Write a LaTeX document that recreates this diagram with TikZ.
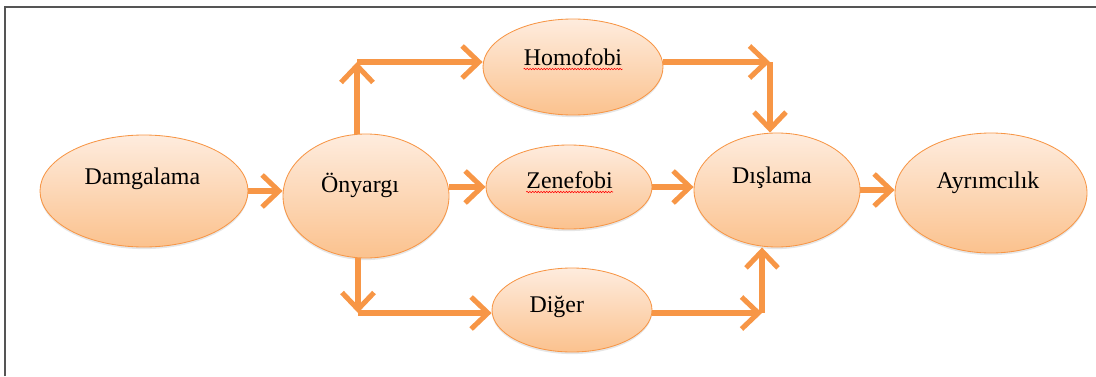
\documentclass[tikz,border=0pt]{standalone}
\usepackage{fontspec}
\setmainfont{Liberation Serif}
\usetikzlibrary{shapes.geometric,arrows.meta,shadows,decorations.pathmorphing}
\definecolor{acc}{HTML}{F79646}
\definecolor{ovtop}{HTML}{FEECDE}
\definecolor{ovbot}{HTML}{FBC28E}
\definecolor{framegray}{HTML}{555555}

\begin{document}
\begin{tikzpicture}[
    oval/.style={ellipse, draw=acc, line width=0.6pt, top color=ovtop, bottom color=ovbot,
        drop shadow={opacity=0.2, shadow xshift=0pt, shadow yshift=-1.5pt}, inner sep=0pt},
    lbl/.style={anchor=base, inner sep=0pt, font=\fontsize{17}{20}\selectfont},
    conn/.style={draw=acc, line width=3.6pt, -{Straight Barb[length=0.42cm, width=0.8cm]}},
    wavy/.style={draw=red, line width=0.4pt, decorate, decoration={snake, amplitude=0.5pt, segment length=2pt}}
]
    \useasboundingbox (0,0) rectangle (27.4,9.4);
    \draw[framegray, line width=1pt] (0.125,0) -- (0.125,9.225) -- (27.4,9.225);

    % ovals
    \node[oval, minimum width=5.2cm, minimum height=2.8cm] (dam) at (3.6,4.625) {};
    \node[oval, minimum width=4.15cm, minimum height=3.1cm] (ony) at (9.15,4.5) {};
    \node[oval, minimum width=4.5cm, minimum height=2.4cm] (homo) at (14.325,7.725) {};
    \node[oval, minimum width=4.15cm, minimum height=2.1cm] (zen) at (14.225,4.725) {};
    \node[oval, minimum width=4cm, minimum height=2.1cm] (dig) at (14.3,1.65) {};
    \node[oval, minimum width=4.15cm, minimum height=2.85cm] (dis) at (19.425,4.65) {};
    \node[oval, minimum width=4.8cm, minimum height=3cm] (ayr) at (24.775,4.575) {};

    % texts
    \node[lbl] (dam-t) at (3.56,4.8) {Damgalama};
    \node[lbl] (ony-t) at (9.0,4.6) {Önyargı};
    \node[lbl] (homo-t) at (14.325,7.775) {Homofobi};
    \node[lbl] (zen-t) at (14.24,4.7) {Zenefobi};
    \node[lbl] (dig-t) at (13.92,1.6) {Diğer};
    \node[lbl] (dis-t) at (19.3,4.825) {Dışlama};
    \node[lbl] (ayr-t) at (24.7,4.7) {Ayrımcılık};
    \draw[wavy] ([yshift=-0.1cm]homo-t.base west) -- ([yshift=-0.1cm]homo-t.base east);
    \draw[wavy] ([yshift=-0.1cm]zen-t.base west) -- ([yshift=-0.1cm]zen-t.base east);

    % corners
    \coordinate (c1) at (8.925,7.85);
    \coordinate (c2) at (19.25,7.85);
    \coordinate (c3) at (8.95,1.575);
    \coordinate (c4) at (19.05,1.575);

    % arrows
    \draw[conn] (dam.east) -- (dam.east -| ony.west);
    \draw[conn] (c1 |- ony.north) -- (c1);
    \draw[conn] (c1) -- (c1 -| homo.west);
    \draw[conn] (c2 -| homo.east) -- (c2);
    \draw[conn] (c2) -- (c2 |- dis.north);
    \draw[conn] (zen.west -| ony.east) -- (zen.west);
    \draw[conn] (zen.east) -- (zen.east -| dis.west);
    \draw[conn] (c3 |- ony.south) -- (c3);
    \draw[conn] (c3) -- (c3 -| dig.west);
    \draw[conn] (c4 -| dig.east) -- (c4);
    \draw[conn] (c4) -- (c4 |- dis.south);
    \draw[conn] (dis.east) -- (dis.east -| ayr.west);
\end{tikzpicture}
\end{document}
